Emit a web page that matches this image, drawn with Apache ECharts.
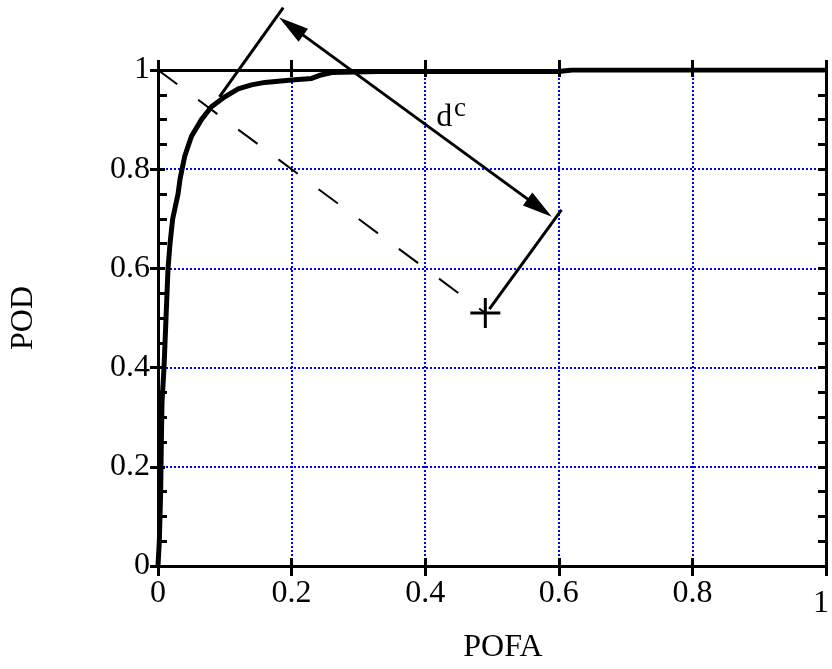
<!DOCTYPE html>
<html>
<head>
<meta charset="utf-8">
<script src="https://cdn.jsdelivr.net/npm/echarts@6/dist/echarts.min.js"></script>
<style>
html, body { margin: 0; padding: 0; background: #fff; }
#chart { width: 832px; height: 669px; }
</style>
</head>
<body>
<div id="chart"></div>
<script>
// ROC curve
const pofa = [0, 0.002, 0.004, 0.005, 0.006, 0.009, 0.012, 0.015, 0.018, 0.022, 0.03, 0.033, 0.04, 0.05, 0.065, 0.08, 0.1, 0.12, 0.14, 0.16, 0.2, 0.23, 0.244, 0.26, 0.33, 0.6, 0.62, 1]
const pod = [0, 0.05, 0.15, 0.25, 0.33, 0.4, 0.5, 0.6, 0.65, 0.7, 0.75, 0.78, 0.826, 0.866, 0.9, 0.926, 0.946, 0.962, 0.97, 0.975, 0.98, 0.983, 0.99, 0.995, 0.997, 0.997, 1, 1]

// the point and the construction lines around it
const plusPoint = [0.49, 0.51]
const diagX = [0, 0.49]
const diagY = [1, 0.51]
const perpX = [0.496, 0.604]
const perpY = [0.518, 0.718]
const tangX = [0.092, 0.1875]
const tangY = [0.946, 1.126]
const arrowFrom = [0.1994, 1.088]
const arrowTo = [0.5714, 0.722]

// d^c label
const dLabel = { text: 'd', pos: [0.4286, 0.905] }
const cLabel = { text: 'c', pos: [0.452, 0.922] }

const black = '#000'
const blue = '#0000ff'
const serif = 'Liberation Serif'
const tickFont = { fontFamily: serif, fontSize: 32, color: black }
const frame = { color: black, width: 3 }

function pairs(xs, ys) {
  return xs.map((x, i) => [x, ys[i]])
}

// bare axis used only to draw ticks on the inner side
function innerAxis(position, len, minor) {
  return {
    type: 'value',
    position: position,
    min: 0,
    max: 1,
    interval: 0.2,
    axisLine: { show: false, onZero: false },
    axisTick: { show: true, inside: true, length: len, lineStyle: frame },
    minorTick: { show: !!minor, splitNumber: 4, length: minor || 0, lineStyle: frame },
    axisLabel: { show: false },
    splitLine: { show: false }
  }
}

let option = {
  animation: false,
  backgroundColor: '#fff',
  grid: {
    left: 156,
    right: 4,
    top: 70,
    bottom: 99
  },
  xAxis: [{
    type: 'value',
    position: 'bottom',
    min: 0,
    max: 1,
    interval: 0.2,
    name: 'POFA',
    nameLocation: 'middle',
    nameGap: 66,
    nameTextStyle: Object.assign({}, tickFont, { padding: [0, 0, 0, 22] }),
    axisLine: { onZero: false, lineStyle: frame },
    axisTick: { inside: false, length: 10, lineStyle: frame },
    axisLabel: Object.assign({}, tickFont, {
      margin: 12,
      formatter: v => v === 1 ? '{r|1}' : String(v),
      rich: { r: Object.assign({}, tickFont, { padding: [10, 10, 0, 0] }) }
    }),
    splitLine: { show: true, lineStyle: { color: blue, width: 2, type: 'dotted' } }
  },
  innerAxis('bottom', 8),
  {
    type: 'value',
    position: 'top',
    min: 0,
    max: 1,
    interval: 0.2,
    axisLine: { onZero: false, lineStyle: frame },
    axisTick: { inside: false, length: 10, lineStyle: frame },
    axisLabel: { show: false },
    splitLine: { show: false }
  },
  innerAxis('top', 7)],
  yAxis: [{
    type: 'value',
    position: 'left',
    min: 0,
    max: 1,
    interval: 0.2,
    name: 'POD',
    nameLocation: 'middle',
    nameRotate: 90,
    nameGap: 118,
    nameTextStyle: tickFont,
    axisLine: { onZero: false, lineStyle: frame },
    axisTick: { inside: false, length: 8, lineStyle: frame },
    axisLabel: Object.assign({}, tickFont, { margin: 8 }),
    splitLine: { show: true, lineStyle: { color: blue, width: 2, type: 'dotted' } }
  },
  innerAxis('left', 7, 9),
  {
    type: 'value',
    position: 'right',
    min: 0,
    max: 1,
    interval: 0.2,
    axisLine: { onZero: false, lineStyle: frame },
    axisTick: { inside: true, length: 8, lineStyle: frame },
    minorTick: { show: true, splitNumber: 4, length: 8, lineStyle: frame },
    axisLabel: { show: false },
    splitLine: { show: false }
  }],
  series: [{
    name: 'ROC',
    type: 'line',
    data: pairs(pofa, pod),
    symbol: 'none',
    lineStyle: { color: black, width: 5 },
    z: 6
  }, {
    type: 'line',
    data: pairs(diagX, diagY),
    symbol: 'none',
    lineStyle: { color: black, width: 2, type: [24, 26] }
  }, {
    type: 'line',
    data: pairs(perpX, perpY),
    symbol: 'none',
    lineStyle: { color: black, width: 3 }
  }, {
    type: 'line',
    data: pairs(tangX, tangY),
    symbol: 'none',
    clip: false,
    lineStyle: { color: black, width: 3 }
  }, {
    type: 'lines',
    coordinateSystem: 'cartesian2d',
    clip: false,
    symbol: ['triangle', 'triangle'],
    symbolSize: [[16, 30], [16, 30]],
    lineStyle: { color: black, width: 3, opacity: 1 },
    data: [{ coords: [arrowFrom, arrowTo] }]
  }, {
    type: 'scatter',
    data: [plusPoint],
    symbol: 'path://M0,13.5L30,13.5L30,16.5L0,16.5Z M13.5,0L16.5,0L16.5,30L13.5,30Z',
    symbolSize: 30,
    itemStyle: { color: black, opacity: 1 },
    z: 7
  }, {
    type: 'scatter',
    symbolSize: 0,
    itemStyle: { color: black, opacity: 1 },
    clip: false,
    label: { show: true, position: 'inside', fontFamily: serif, color: black, opacity: 1 },
    data: [
      { value: dLabel.pos, label: { formatter: dLabel.text, fontSize: 32 } },
      { value: cLabel.pos, label: { formatter: cLabel.text, fontSize: 27 } }
    ]
  }]
}

const chart = echarts.init(document.getElementById('chart'))
chart.setOption(option)
</script>
</body>
</html>
